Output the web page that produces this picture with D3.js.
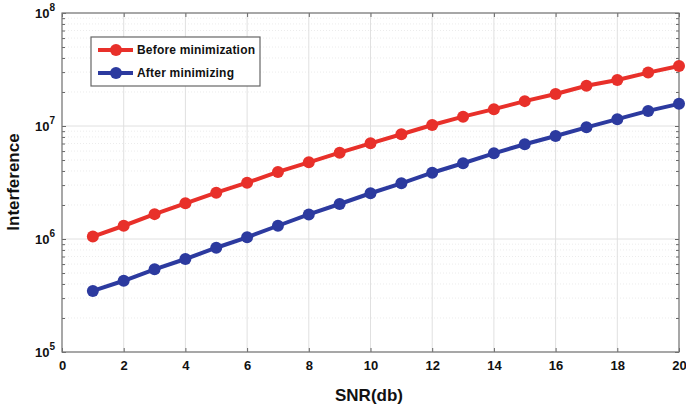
<!DOCTYPE html>
<html><head><meta charset="utf-8">
<script src="https://cdn.jsdelivr.net/npm/d3@7"></script>
<style>body{margin:0;background:#fff}svg{display:block}text{font-family:Arial,"Liberation Sans",sans-serif;font-weight:bold;fill:#111}</style>
</head><body><svg id="c" width="686" height="410"></svg>
<script>
const snr = [1,2,3,4,5,6,7,8,9,10,11,12,13,14,15,16,17,18,19,20];
const before = [1.05e6,1.31e6,1.66e6,2.07e6,2.57e6,3.15e6,3.92e6,4.77e6,5.81e6,7.03e6,8.45e6,1.02e7,1.21e7,1.41e7,1.66e7,1.92e7,2.27e7,2.55e7,2.97e7,3.40e7];
const after = [3.47e5,4.27e5,5.39e5,6.65e5,8.37e5,1.035e6,1.31e6,1.65e6,2.04e6,2.54e6,3.11e6,3.86e6,4.68e6,5.73e6,6.89e6,8.16e6,9.73e6,1.15e7,1.36e7,1.57e7];
const xTicks = [0,2,4,6,8,10,12,14,16,18,20];
const yTickExps = [5,6,7,8];
const seriesNames = ["Before minimization","After minimizing"];
const colors = ["#e8302a","#2c3a9f"];

const svg = d3.select("#c");
const L=62,R=679,T=13,B=352;
const x = d3.scaleLinear().domain([0,20]).range([L,R]);
const y = d3.scaleLog().domain([1e5,1e8]).range([B,T]);

// minor grid
const minor=[];
for(let e=5;e<8;e++) for(let k=2;k<=9;k++) minor.push(k*Math.pow(10,e));
svg.append("g").selectAll("line").data(minor).join("line")
 .attr("x1",L).attr("x2",R).attr("y1",d=>y(d)).attr("y2",d=>y(d))
 .attr("stroke","#ececec").attr("stroke-width",1).attr("stroke-dasharray","1,2");
// major grid
svg.append("g").selectAll("line").data(xTicks).join("line")
 .attr("x1",d=>x(d)).attr("x2",d=>x(d)).attr("y1",T).attr("y2",B)
 .attr("stroke","#e0e0e0").attr("stroke-width",1);
svg.append("g").selectAll("line").data(yTickExps).join("line")
 .attr("x1",L).attr("x2",R).attr("y1",d=>y(Math.pow(10,d))).attr("y2",d=>y(Math.pow(10,d)))
 .attr("stroke","#e0e0e0").attr("stroke-width",1);

// axes
const ax = svg.append("g").attr("transform",`translate(0,${B})`)
 .call(d3.axisBottom(x).tickValues(xTicks).tickSize(-4).tickPadding(9).tickFormat(d3.format("d")));
ax.select(".domain").remove();
ax.selectAll("text").attr("font-size",13).attr("font-weight","bold").attr("fill","#111").attr("font-family","Arial");
ax.selectAll("line").attr("stroke","#666");
const axt = svg.append("g").attr("transform",`translate(0,${T})`)
 .call(d3.axisTop(x).tickValues(xTicks).tickSize(-4).tickFormat(""));
axt.select(".domain").remove(); axt.selectAll("line").attr("stroke","#666");

const allY = yTickExps.map(e=>Math.pow(10,e)).concat(minor);
[[d3.axisLeft,L],[d3.axisRight,R]].forEach(([f,px])=>{
 const g = svg.append("g").attr("transform",`translate(${px},0)`)
  .call(f(y).tickValues(allY).tickSize(-4).tickFormat(""));
 g.select(".domain").remove(); g.selectAll("line").attr("stroke","#666");
 g.selectAll(".tick").filter(d=>Math.abs(Math.log10(d)-Math.round(Math.log10(d)))>1e-9)
  .select("line").attr("x2",f===d3.axisLeft?3:-3);
});
// y labels
const yl = svg.append("g").selectAll("text").data(yTickExps).join("text")
 .attr("x",L-7).attr("y",d=>y(Math.pow(10,d))+5).attr("text-anchor","end").attr("font-size",13);
yl.append("tspan").text("10");
yl.append("tspan").attr("dy",-7).attr("font-size",10).text(d=>d);

svg.append("rect").attr("x",L).attr("y",T).attr("width",R-L).attr("height",B-T)
 .attr("fill","none").attr("stroke","#777").attr("stroke-width",1.2);

// series
const line = d3.line().x((d,i)=>x(snr[i])).y(d=>y(d));
[before,after].forEach((s,k)=>{
 svg.append("path").datum(s).attr("d",line).attr("fill","none").attr("stroke",colors[k]).attr("stroke-width",4);
 svg.append("g").selectAll("circle").data(s).join("circle")
  .attr("cx",(d,i)=>x(snr[i])).attr("cy",d=>y(d)).attr("r",6).attr("fill",colors[k]);
});

// legend
const lg = svg.append("g");
lg.append("rect").attr("x",91).attr("y",37).attr("width",169).attr("height",49).attr("fill","#fff").attr("stroke","#666").attr("stroke-width",1.2);
seriesNames.forEach((n,k)=>{
 const yy = 50 + k*23;
 lg.append("line").attr("x1",98).attr("x2",133).attr("y1",yy).attr("y2",yy).attr("stroke",colors[k]).attr("stroke-width",4);
 lg.append("circle").attr("cx",116).attr("cy",yy).attr("r",6).attr("fill",colors[k]);
 lg.append("text").attr("x",137).attr("y",yy+4).attr("font-size",12).attr("textLength",n.length>17?118:97).text(n);
});

svg.append("text").attr("x",369).attr("y",401).attr("text-anchor","middle").attr("font-size",17).text("SNR(db)");
svg.append("text").attr("transform","translate(19,182) rotate(-90)").attr("text-anchor","middle").attr("font-size",17).text("Interference");
</script></body></html>
